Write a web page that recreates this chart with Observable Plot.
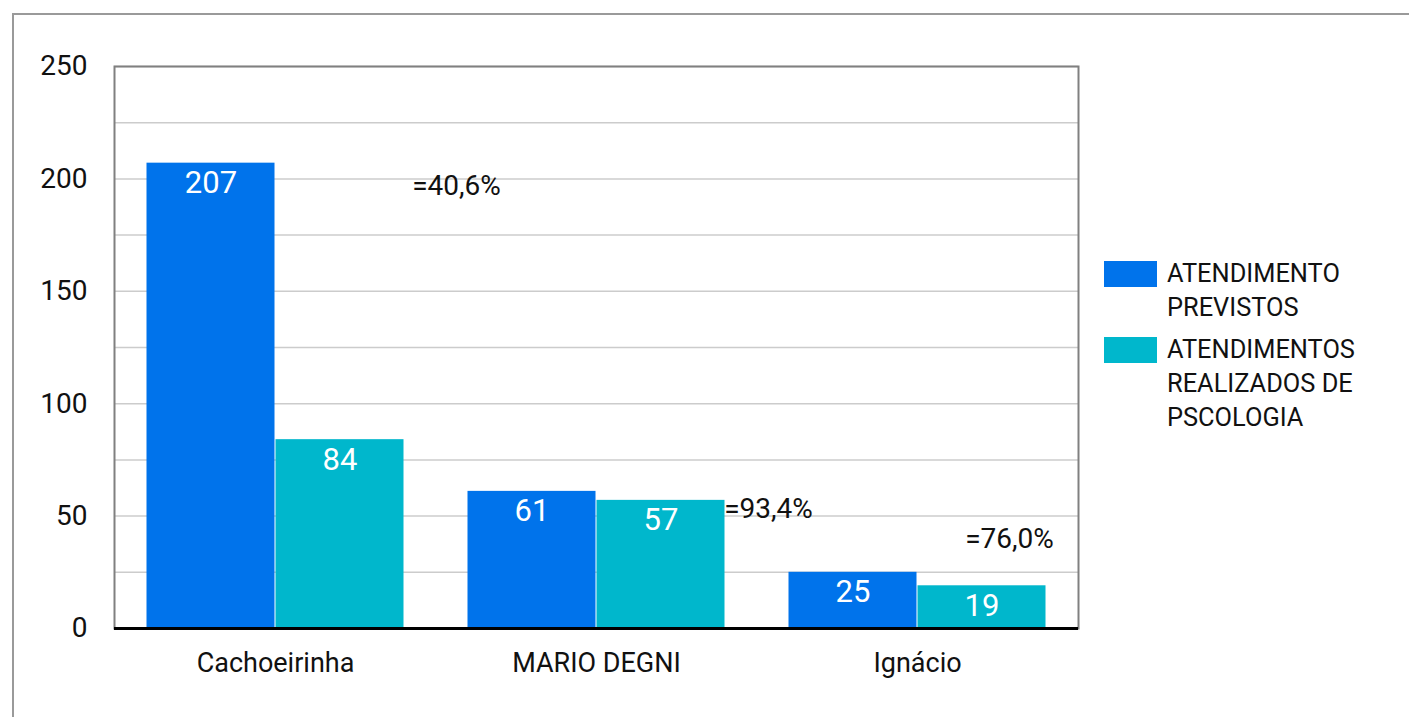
<!DOCTYPE html>
<html>
<head>
<meta charset="utf-8">
<script src="https://cdn.jsdelivr.net/npm/d3@7"></script>
<script src="https://cdn.jsdelivr.net/npm/@observablehq/plot@0.6"></script>
<style>
  body { margin: 0; background: #fff; font-family: Roboto, sans-serif; }
  #wrap { position: relative; width: 1409px; height: 717px; overflow: hidden; }
  #border { position: absolute; left: 12px; top: 13px; right: 0; bottom: -5px;
            border-left: 2px solid #9a9a9a; border-top: 2px solid #9a9a9a; }
  .layer { position: absolute; left: 0; top: 0; }
  #legend { position: absolute; left: 1104px; top: 256px; font-family: Roboto, sans-serif;
            font-size: 25.4px; line-height: 34px; color: #111; }
  .item { display: flex; align-items: flex-start; margin-bottom: 8px; }
  .sw { width: 53px; height: 26px; margin-top: 5px; margin-right: 10px; flex: none; }
</style>
</head>
<body>
<div id="wrap">
  <div id="border"></div>
  <div id="bg" class="layer"></div>
  <div id="fg" class="layer"></div>
  <div id="top" class="layer"></div>
  <div id="legend"></div>
</div>
<script>
const categories = ["Cachoeirinha", "MARIO DEGNI", "Ignácio"];
const seriesNames = ["ATENDIMENTO PREVISTOS", "ATENDIMENTOS REALIZADOS DE PSCOLOGIA"];
const previstos = [207, 61, 25];
const realizados = [84, 57, 19];
const pctLabels = ["=40,6%", "=93,4%", "=76,0%"];
const pctLevels = [197, 53, 40];
const yTicks = [0, 50, 100, 150, 200, 250];
const gridTicks = [0, 25, 50, 75, 100, 125, 150, 175, 200, 225, 250];
const colors = ["#0073EB", "#00B7CC"];

const data = [];
categories.forEach((c, i) => {
  data.push({cat: c, series: seriesNames[0], value: previstos[i]});
  data.push({cat: c, series: seriesNames[1], value: realizados[i]});
});
const ann = categories.map((c, i) => ({cat: c, label: pctLabels[i], level: pctLevels[i]}));

const common = {
  width: 1409, height: 717,
  marginLeft: 114, marginRight: 331, marginTop: 66, marginBottom: 89,
  style: {fontFamily: "Roboto, sans-serif", background: "transparent", color: "#111"}
};

const bg = Plot.plot({
  ...common,
  x: {domain: [0, 1], axis: null},
  y: {domain: [0, 250], axis: null},
  marks: [
    Plot.ruleY(gridTicks, {stroke: "#cccccc", strokeWidth: 1.5}),
    Plot.axisY(yTicks, {tickSize: 0, tickPadding: 27, fontSize: 28, fill: "#111"}),
    Plot.frame({stroke: "#808080", strokeWidth: 2})
  ]
});
document.getElementById("bg").appendChild(bg);

const fg = Plot.plot({
  ...common,
  fx: {domain: categories, paddingInner: 0.197, paddingOuter: 0.1, label: null, axis: null},
  x: {domain: seriesNames, axis: null, padding: 0},
  y: {domain: [0, 250], axis: null},
  color: {domain: seriesNames, range: colors},
  marks: [
    Plot.axisFx({anchor: "bottom", tickSize: 0, tickPadding: 24, fontSize: 27, fill: "#111", label: null}),
    Plot.barY(data, {fx: "cat", x: "series", y: "value", fill: "series", insetLeft: 0.5, insetRight: 0.5}),
    Plot.text(data, {fx: "cat", x: "series", y: "value", text: d => String(d.value), fill: "white",
      fontSize: 31, lineAnchor: "top", dy: 8}),
    Plot.text(ann.filter(d => d.cat === categories[0]), {fx: "cat", y: "level", text: "label", fontSize: 28, fill: "#111", dx: 181}),
    Plot.text(ann.filter(d => d.cat === categories[1]), {fx: "cat", y: "level", text: "label", fontSize: 28, fill: "#111", dx: 172}),
    Plot.text(ann.filter(d => d.cat === categories[2]), {fx: "cat", y: "level", text: "label", fontSize: 28, fill: "#111", dx: 92})
  ]
});
document.getElementById("fg").appendChild(fg);

const topLayer = Plot.plot({
  ...common,
  x: {domain: [0, 1], axis: null},
  y: {domain: [0, 250], axis: null},
  marks: [
    Plot.ruleY([0], {stroke: "#000", strokeWidth: 3})
  ]
});
document.getElementById("top").appendChild(topLayer);

const legendLines = [["ATENDIMENTO", "PREVISTOS"], ["ATENDIMENTOS", "REALIZADOS DE", "PSCOLOGIA"]];
const leg = document.getElementById("legend");
seriesNames.forEach((s, i) => {
  const item = document.createElement("div");
  item.className = "item";
  const sw = document.createElement("div");
  sw.className = "sw";
  sw.style.background = colors[i];
  const t = document.createElement("div");
  t.innerHTML = legendLines[i].join("<br>");
  item.appendChild(sw); item.appendChild(t);
  leg.appendChild(item);
});
</script>
</body>
</html>
